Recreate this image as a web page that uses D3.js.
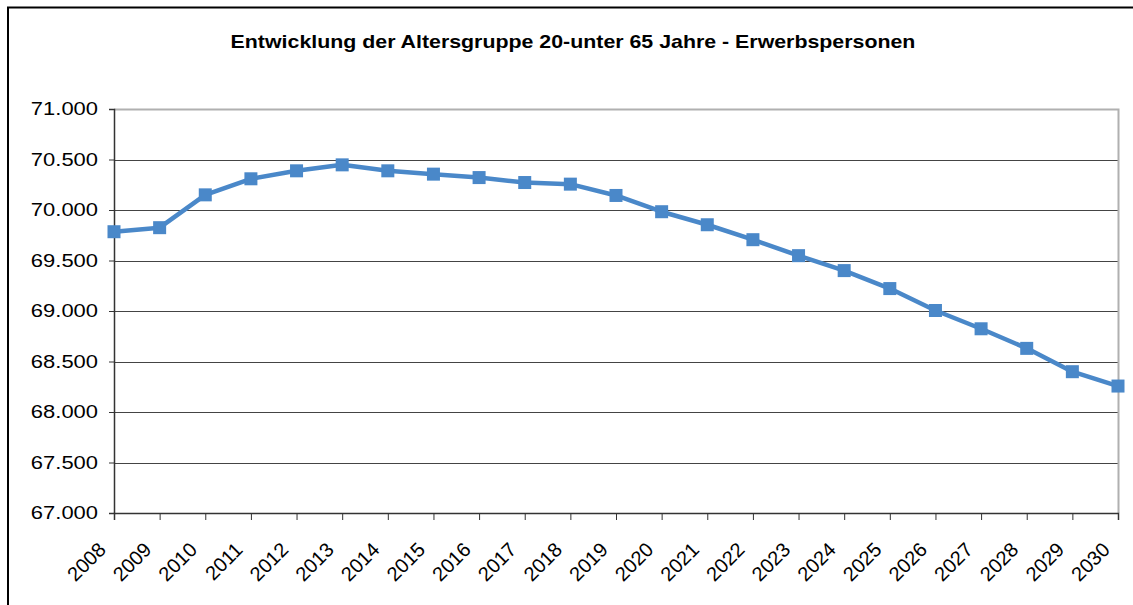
<!DOCTYPE html>
<html>
<head>
<meta charset="utf-8">
<script src="https://cdn.jsdelivr.net/npm/d3@7"></script>
<style>
  body { margin: 0; background: #fff; }
  text { font-family: Arial, "Liberation Sans", sans-serif; fill: #000; }
</style>
</head>
<body>
<svg id="chart"></svg>
<script>
const years = ['2008', '2009', '2010', '2011', '2012', '2013', '2014', '2015', '2016', '2017', '2018',
  '2019', '2020', '2021', '2022', '2023', '2024', '2025', '2026', '2027', '2028', '2029', '2030'];
const persons = [69785, 69825, 70150, 70309, 70388, 70447, 70388, 70355, 70321, 70272, 70256,
  70144, 69983, 69854, 69706, 69548, 69400, 69222, 69005, 68824, 68630, 68399, 68257];
const yTicks = [67000, 67500, 68000, 68500, 69000, 69500, 70000, 70500, 71000];
const title = 'Entwicklung der Altersgruppe 20-unter 65 Jahre - Erwerbspersonen';

const width = 1133;
const height = 605;
const plot = { left: 114, right: 1118, top: 109, bottom: 513 };
const stretch = 1.22; // text in the picture is wider than it is tall

// german thousands separator
const fmt = (d) => d3.format(',')(d).replace(/,/g, '.');

const svg = d3.select('#chart').attr('width', width).attr('height', height);

// outer frame (top + left only visible)
svg.append('path')
  .attr('d', `M8,${height} V7.5 H${width}`)
  .attr('fill', 'none')
  .attr('stroke', '#000')
  .attr('stroke-width', 2);

svg.append('text')
  .attr('transform', `translate(573, 48) scale(${stretch},1)`)
  .attr('text-anchor', 'middle')
  .attr('font-size', '17.5px')
  .attr('font-weight', 'bold')
  .text(title);

const xScale = d3.scalePoint().domain(years).range([plot.left, plot.right]);
const yScale = d3.scaleLinear().domain([67000, 71000]).range([plot.bottom, plot.top]);

// gridlines
svg.append('g')
  .attr('class', 'grid')
  .selectAll('line')
  .data(yTicks.filter((d) => d !== 67000 && d !== 71000))
  .enter()
  .append('line')
  .attr('x1', plot.left)
  .attr('x2', plot.right)
  .attr('y1', (d) => Math.round(yScale(d)) + 0.5)
  .attr('y2', (d) => Math.round(yScale(d)) + 0.5)
  .attr('stroke', '#444')
  .attr('stroke-width', 1);

// plot area border (top + right)
svg.append('path')
  .attr('d', `M${plot.left},${plot.top + 0.5} H${plot.right + 0.5} V${plot.bottom}`)
  .attr('fill', 'none')
  .attr('stroke', '#b0b0b0')
  .attr('stroke-width', 2);

// y axis
const yAxis = d3.axisLeft(yScale).tickValues(yTicks).tickSize(5).tickFormat((d) => fmt(d));
const yG = svg.append('g')
  .attr('transform', `translate(${plot.left}, 0)`)
  .call(yAxis);
yG.select('.domain').attr('stroke', '#333').attr('stroke-width', 1.5);
yG.selectAll('.tick line').attr('stroke', '#333');
yG.selectAll('.tick text')
  .attr('font-size', '18px')
  .attr('font-family', 'Arial, "Liberation Sans", sans-serif')
  .attr('fill', '#000')
  .attr('text-anchor', 'end')
  .attr('x', null)
  .attr('transform', `translate(-16, 0) scale(${stretch},1)`);

// x axis
const xAxis = d3.axisBottom(xScale).tickSize(7).tickFormat('');
const xG = svg.append('g')
  .attr('transform', `translate(0, ${plot.bottom})`)
  .call(xAxis);
xG.select('.domain').attr('stroke', '#333').attr('stroke-width', 1.5);
xG.selectAll('.tick line').attr('stroke', '#333');

svg.append('g')
  .selectAll('text')
  .data(years)
  .enter()
  .append('text')
  .attr('transform', (d) => `translate(${xScale(d) - 7}, ${plot.bottom + 38}) rotate(-45)`)
  .attr('text-anchor', 'end')
  .attr('font-size', '20px')
  .text((d) => d);

// line
const line = d3.line()
  .x((d, i) => xScale(years[i]))
  .y((d) => yScale(d));

svg.append('path')
  .datum(persons)
  .attr('d', line)
  .attr('fill', 'none')
  .attr('stroke', '#4a88c9')
  .attr('stroke-width', 4.5)
  .attr('stroke-linejoin', 'round');

const size = 13;
svg.append('g')
  .selectAll('rect')
  .data(persons)
  .enter()
  .append('rect')
  .attr('x', (d, i) => xScale(years[i]) - size / 2)
  .attr('y', (d) => yScale(d) - size / 2)
  .attr('width', size)
  .attr('height', size)
  .attr('fill', '#4a88c9');
</script>
</body>
</html>
